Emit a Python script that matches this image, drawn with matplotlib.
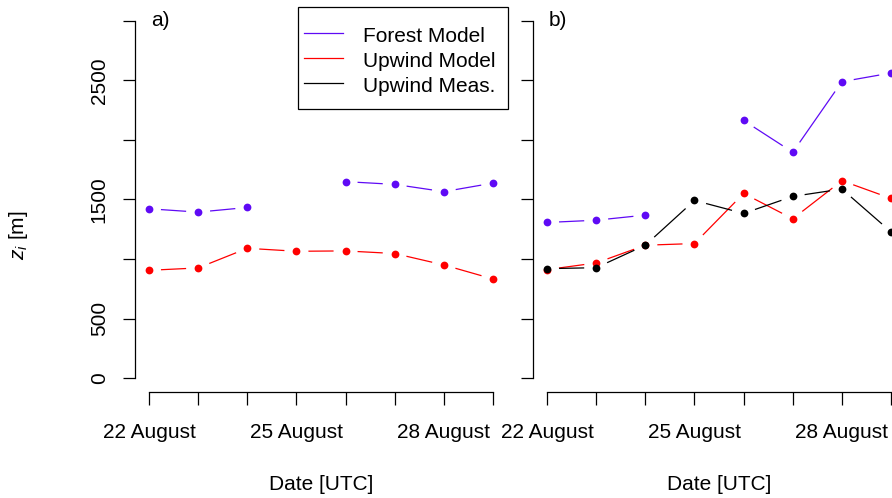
import numpy as np
import matplotlib.pyplot as plt
from matplotlib.lines import Line2D
from matplotlib.patches import Rectangle

plt.rcParams['font.family'] = ['Liberation Sans', 'DejaVu Sans']
plt.rcParams['mathtext.fontset'] = 'custom'
plt.rcParams['mathtext.rm'] = 'Liberation Sans'
plt.rcParams['mathtext.it'] = 'Liberation Sans:italic'

##########################################################################
###   data (one value per day, 22 - 29 August)
##########################################################################
days = np.arange(1, 9)
xtick_labels = ['22 August', '', '', '25 August', '', '', '28 August', '']
ytick_vals = [0, 500, 1000, 1500, 2000, 2500, 3000]
ytick_labels = ['0', '500', '', '1500', '', '2500', '']

forest_a = [1422, 1394, 1433, np.nan, 1650, 1627, 1566, 1638]
upwind_a = [905, 925, 1090, 1065, 1068, 1046, 950, 832]

forest_b = [1307, 1326, 1369, np.nan, 2164, 1897, 2490, 2563]
upwind_b = [911, 967, 1116, 1130, 1551, 1338, 1658, 1509]
meas_b = [919, 927, 1116, 1492, 1383, 1526, 1588, 1228]

leg_names = ['Forest Model', 'Upwind Model', 'Upwind Meas.']

c_forest = '#5f0af5'
c_upwind = '#ff0000'
c_meas = '#000000'
leg_cols = [c_forest, c_upwind, c_meas]

FS = 15
W, H = 892, 498

def fx(px):
    return px/W

def fy(py):
    return 1 - py/H

def gapLine(ax, x, y, col, gap=12.0):
    '''
    R style type="b": points with line pieces that stop short of each point
    '''
    y = np.asarray(y, dtype=float)
    xy = ax.transData.transform(np.column_stack([x, y]))
    inv = ax.transData.inverted()
    for i in range(len(x) - 1):
        if np.isnan(y[i]) or np.isnan(y[i+1]):
            continue
        p0, p1 = xy[i], xy[i+1]
        d = p1 - p0
        L = np.hypot(*d)
        if L <= 2*gap:
            continue
        u = d/L
        q = inv.transform(np.array([p0 + u*gap, p1 - u*gap]))
        ax.plot(q[:, 0], q[:, 1], color=col, lw=0.9, solid_capstyle='butt')
    ax.plot(x, y, 'o', color=col, ms=5.6, mew=0)

fig = plt.figure(figsize=(W/100, H/100), dpi=100)

# plot regions in pixels (left, top, right, bottom); panel b runs off the page
regions = [(135.2, 6.7, 506.8, 392.3), (533.3, 6.7, 904.8, 392.3)]
axes = []
for (l, t, r, b) in regions:
    ax = fig.add_axes([fx(l), fy(b), (r - l)/W, (b - t)/H])
    ax.set_xlim(0.72, 8.28)
    ax.set_ylim(-120, 3120)
    for s in ['top', 'right']:
        ax.spines[s].set_visible(False)
    ax.spines['left'].set_bounds(0, 3000)
    ax.spines['bottom'].set_bounds(1, 8)
    for s in ['left', 'bottom']:
        ax.spines[s].set_linewidth(0.9)
    ax.set_xticks(days)
    ax.set_xticklabels(xtick_labels)
    ax.set_yticks(ytick_vals)
    ax.tick_params(length=9, width=0.9, labelsize=FS)
    ax.tick_params(axis='x', pad=13)
    ax.tick_params(axis='y', pad=10)
    ax.text(0.5, -0.24, 'Date [UTC]', transform=ax.transAxes,
            ha='center', va='center', fontsize=FS)
    axes.append(ax)

axA, axB = axes
axA.set_yticklabels(ytick_labels, rotation=90, va='center')
axB.set_yticklabels([])

gapLine(axA, days, forest_a, c_forest)
gapLine(axA, days, upwind_a, c_upwind)

gapLine(axB, days, forest_b, c_forest)
gapLine(axB, days, upwind_b, c_upwind)
gapLine(axB, days, meas_b, c_meas)

axA.text(1.05, 3000, 'a)', ha='left', va='center', fontsize=FS)
axB.text(1.04, 3000, 'b)', ha='left', va='center', fontsize=FS)

fig.text(fx(19), fy(235), r'$z_i$ [m]', rotation=90, ha='center', va='center',
         fontsize=FS)

# legend drawn R-like: box with more room above and below than at the sides
fig.add_artist(Rectangle((fx(298.3), fy(109.3)), (507.7 - 298.3)/W, (109.3 - 7.3)/H,
                         transform=fig.transFigure, fill=False, ec='black', lw=0.9))
for k, (name, col) in enumerate(zip(leg_names, leg_cols)):
    base = 41.7 + 25*k
    fig.add_artist(Line2D([fx(304), fx(343.3)], [fy(base - 8.4)]*2,
                          transform=fig.transFigure, color=col, lw=0.9))
    fig.text(fx(362.7), fy(base), name, ha='left', va='baseline', fontsize=FS)

plt.savefig('out.png', dpi=100)
